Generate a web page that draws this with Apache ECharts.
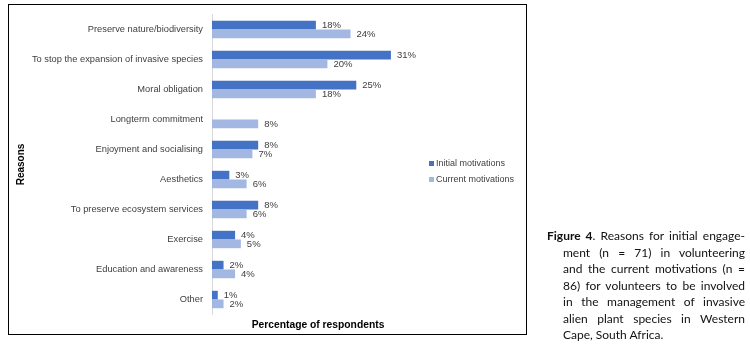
<!DOCTYPE html>
<html>
<head>
<meta charset="utf-8">
<script src="https://cdn.jsdelivr.net/npm/echarts@6/dist/echarts.min.js"></script>
<style>
  html, body { margin: 0; padding: 0; background: #fff; }
  #wrap { position: relative; width: 750px; height: 349px; }
  #frame { position: absolute; left: 8px; top: 4px; width: 519px; height: 331px; border: 1.5px solid #000; box-sizing: border-box; }
  #chart { position: absolute; left: 0; top: 0; width: 750px; height: 349px; }
  #caption { position: absolute; left: 547px; top: 228px; width: 198px; font-family: Lato, "Open Sans", sans-serif; font-size: 12px; line-height: 16.5px; color: #111; }
  #caption div { text-align: justify; text-align-last: justify; padding-left: 16px; white-space: nowrap; }
  #caption div.first { padding-left: 0; }
  #caption div.last { text-align-last: left; }
</style>
</head>
<body>
<div id="wrap">
  <div id="frame"></div>
  <div id="chart"></div>
  <div id="caption">
    <div class="first"><b>Figure 4</b>. Reasons for initial engage-</div>
    <div>ment (n = 71) in volunteering</div>
    <div>and the current motivations (n =</div>
    <div>86) for volunteers to be involved</div>
    <div>in the management of invasive</div>
    <div>alien plant species in Western</div>
    <div class="last">Cape, South Africa.</div>
  </div>
</div>
<script>
  // 数据
  const reasons = [
    'Preserve nature/biodiversity',
    'To stop the expansion of invasive species',
    'Moral obligation',
    'Longterm commitment',
    'Enjoyment and socialising',
    'Aesthetics',
    'To preserve ecosystem services',
    'Exercise',
    'Education and awareness',
    'Other'
  ]
  const initialMotivations = [18, 31, 25, null, 8, 3, 8, 4, 2, 1]
  const currentMotivations = [24, 20, 18, 8, 7, 6, 6, 5, 4, 2]

  const font = '"Liberation Sans", Arial, sans-serif'
  const labelStyle = {
    show: true,
    position: 'right',
    distance: 6,
    fontSize: 9.5,
    fontFamily: font,
    color: '#404040',
    formatter: (p) => p.value + '%'
  }

  const chart = echarts.init(document.getElementById('chart'))
  const option = {
    animation: false,
    grid: { left: 212, top: 14.5, width: 202, height: 300 },
    legend: {
      orient: 'vertical',
      left: 424,
      top: 154,
      itemWidth: 5,
      itemHeight: 5,
      itemGap: 7,
      icon: 'rect',
      textStyle: { fontSize: 9, fontFamily: font, color: '#404040', padding: [0, 0, 0, -3] },
      data: ['Initial motivations', 'Current motivations']
    },
    xAxis: {
      type: 'value',
      min: 0,
      max: 35,
      axisLine: { show: false },
      axisTick: { show: false },
      axisLabel: { show: false },
      splitLine: { show: false },
      name: 'Percentage of respondents',
      nameLocation: 'middle',
      nameGap: 6,
      nameTextStyle: { fontSize: 10.3, fontWeight: 'bold', fontFamily: font, color: '#000', padding: [0, 0, 0, 10] }
    },
    yAxis: {
      type: 'category',
      inverse: true,
      data: reasons,
      axisLine: { show: true, lineStyle: { color: '#d9d9d9', width: 1 } },
      axisTick: { show: false },
      axisLabel: { fontSize: 9.3, fontFamily: font, color: '#404040', margin: 9 },
      name: 'Reasons',
      nameLocation: 'middle',
      nameGap: 186,
      nameRotate: 90,
      nameTextStyle: { fontSize: 10, fontWeight: 'bold', fontFamily: font, color: '#000' }
    },
    series: [
      {
        name: 'Initial motivations',
        type: 'bar',
        data: initialMotivations,
        barGap: '0%',
        barCategoryGap: '42%',
        itemStyle: { color: '#4472C4' },
        label: Object.assign({}, labelStyle, { offset: [0, 0] })
      },
      {
        name: 'Current motivations',
        type: 'bar',
        data: currentMotivations,
        barGap: '0%',
        barCategoryGap: '42%',
        itemStyle: { color: '#A2B7E1' },
        label: Object.assign({}, labelStyle, { offset: [0, 1] })
      }
    ]
  }
  chart.setOption(option)
</script>
</body>
</html>
